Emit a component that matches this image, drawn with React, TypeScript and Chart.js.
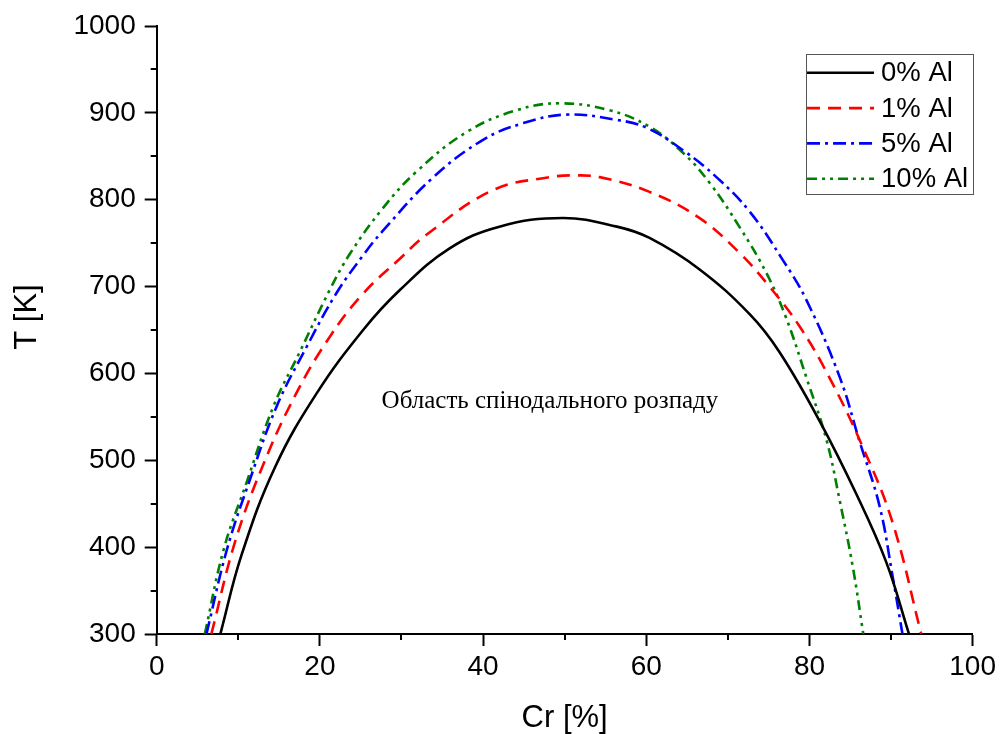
import React, { useEffect, useRef } from "react";
import { Chart, registerables } from "chart.js";

Chart.register(...registerables);

// ---- Data (Cr %, T K) ----
const crAl0 = [7.8, 10.4, 14.5, 19.6, 25.3, 29.8, 35.9, 42, 49.8, 56.4, 60.4, 66.5, 72.7, 76.3, 81.2, 85.7, 89.4, 92.2];
const tAl0 = [300, 391, 492, 577, 650, 696, 744, 769, 779, 769, 756, 720, 668, 625, 546, 462, 383, 300];

const crAl1 = [6.7, 9.6, 13.1, 17.1, 21.2, 25.3, 29.8, 33.1, 41.2, 48.2, 51.4, 54.3, 60.4, 66.5, 71.4, 75.1, 78.8, 82.4, 86.5, 90.2, 93.7];
const tAl1 = [300, 406, 496, 577, 642, 692, 732, 760, 811, 826, 828, 826, 809, 779, 739, 700, 654, 596, 516, 428, 300];

const crAl5 = [6.1, 8.6, 11.4, 14.7, 18.4, 22.0, 25.3, 27.7, 33.8, 40, 44.9, 50.2, 56.3, 60, 64.5, 68.6, 72.7, 76.7, 79.6, 83.7, 86.1, 88.6, 90.2, 91.4];
const tAl5 = [300, 397, 477, 562, 631, 692, 736, 764, 825, 869, 888, 898, 892, 883, 857, 826, 786, 731, 685, 596, 523, 447, 366, 300];

const crAl10 = [5.9, 8.2, 11.0, 14.3, 17.5, 21.2, 23.7, 27.7, 31.8, 38, 44.1, 49.4, 55.5, 60.4, 64.5, 67.8, 71.4, 74.7, 77.1, 79.6, 82.1, 83.7, 85.3, 86.6];
const tAl10 = [300, 397, 474, 562, 624, 696, 738, 790, 832, 878, 903, 911, 903, 884, 854, 819, 769, 716, 665, 596, 523, 454, 378, 300];

const seriesLabels = ["0% Al", "1% Al", "5% Al", "10% Al"];
const xTickStep = 20;
const xMinorStep = 10;
const yTickStep = 100;
const yMinorStep = 50;
const xRange = [0, 100];
const yRange = [300, 1000];
const xTitle = "Cr [%]";
const yTitle = "T [K]";
const regionLabel = "Область спінодального розпаду";
const regionLabelAt = { x: 48.2, y: 560 };

// ---- Styles ----
const SANS = '"Liberation Sans", Arial, sans-serif';
const SERIF = '"Liberation Serif", "Times New Roman", serif';
const colors = ["#000000", "#FF0000", "#0000FF", "#008000"];
const dashes: number[][] = [[], [13, 8], [13, 5, 3, 5], [10, 5, 3, 5, 3, 5]];

const toPoints = (xs: number[], ys: number[]) => xs.map((x, i) => ({ x, y: ys[i] }));

const minorTicksPlugin = {
  id: "minorTicks",
  afterDraw(chart: any) {
    const { ctx, scales, chartArea } = chart;
    ctx.save();
    ctx.strokeStyle = "#000";
    ctx.lineWidth = 2;
    const xs = scales.x;
    for (let v = xRange[0]; v <= xRange[1]; v += xMinorStep) {
      if (v % xTickStep === 0) continue;
      const px = Math.round(xs.getPixelForValue(v));
      ctx.beginPath();
      ctx.moveTo(px, chartArea.bottom);
      ctx.lineTo(px, chartArea.bottom + 6);
      ctx.stroke();
    }
    const ys = scales.y;
    for (let v = yRange[0]; v <= yRange[1]; v += yMinorStep) {
      if (v % yTickStep === 0) continue;
      const py = Math.round(ys.getPixelForValue(v));
      ctx.beginPath();
      ctx.moveTo(chartArea.left, py);
      ctx.lineTo(chartArea.left - 6, py);
      ctx.stroke();
    }
    ctx.restore();
  },
};

const textPlugin = {
  id: "texts",
  afterDatasetsDraw(chart: any) {
    const { ctx, scales } = chart;
    ctx.save();
    ctx.font = `25px ${SERIF}`;
    ctx.fillStyle = "#000";
    ctx.textAlign = "center";
    ctx.textBaseline = "alphabetic";
    ctx.fillText(regionLabel, scales.x.getPixelForValue(regionLabelAt.x), scales.y.getPixelForValue(regionLabelAt.y));
    // y axis title
    ctx.translate(27, 317);
    ctx.rotate(-Math.PI / 2);
    ctx.font = `31px ${SANS}`;
    ctx.textBaseline = "middle";
    ctx.fillText(yTitle, 0, 0);
    ctx.restore();
  },
};

const boxLegendPlugin = {
  id: "boxLegend",
  afterDraw(chart: any) {
    const { ctx, chartArea } = chart;
    const right = chartArea.right;
    const left = right - 166.6;
    const top = 54.3;
    const rowH = 35.3;
    const bottom = 194.3;
    ctx.save();
    ctx.fillStyle = "#fff";
    ctx.fillRect(left, top, right - left, bottom - top);
    ctx.strokeStyle = "#555";
    ctx.lineWidth = 1;
    ctx.strokeRect(Math.round(left) + 0.5, Math.round(top) + 0.5, Math.round(right - left), Math.round(bottom - top));
    chart.data.datasets.forEach((ds: any, i: number) => {
      const cy = top + 18.5 + i * rowH;
      ctx.beginPath();
      ctx.strokeStyle = ds.borderColor;
      ctx.lineWidth = ds.borderWidth;
      ctx.setLineDash(ds.borderDash || []);
      ctx.moveTo(left + 1, cy);
      ctx.lineTo(left + 68, cy);
      ctx.stroke();
      ctx.setLineDash([]);
      ctx.fillStyle = "#000";
      ctx.font = `27.5px ${SANS}`;
      ctx.textAlign = "left";
      ctx.textBaseline = "middle";
      ctx.fillText(ds.label, left + 75, cy + 1);
    });
    ctx.restore();
  },
};

export default function App() {
  const ref = useRef<HTMLCanvasElement>(null);
  useEffect(() => {
    document.body.style.margin = "0";
    const canvas = ref.current;
    if (!canvas) return;
    const all = [
      toPoints(crAl0, tAl0),
      toPoints(crAl1, tAl1),
      toPoints(crAl5, tAl5),
      toPoints(crAl10, tAl10),
    ];
    const tickFont = { family: SANS, size: 28 };
    const titleFont = { family: SANS, size: 31, lineHeight: 1 };
    const chart = new Chart(canvas, {
      type: "line",
      data: {
        datasets: all.map((pts, i) => ({
          label: seriesLabels[i],
          data: pts,
          borderColor: colors[i],
          backgroundColor: colors[i],
          borderWidth: 2.6,
          borderDash: dashes[i],
          pointRadius: 0,
          fill: false,
          tension: 0.4,
        })),
      },
      options: {
        responsive: false,
        animation: false,
        devicePixelRatio: 1,
        layout: { padding: { left: 0, top: 26, right: 26.7, bottom: 0 } },
        plugins: { legend: { display: false }, tooltip: { enabled: false } },
        scales: {
          x: {
            type: "linear",
            min: xRange[0],
            max: xRange[1],
            ticks: { stepSize: xTickStep, padding: 4, color: "#000", font: tickFont, callback: (v: any) => String(v) },
            grid: { drawOnChartArea: false, drawTicks: true, tickLength: 12, tickColor: "#000", tickWidth: 2 },
            border: { display: true, color: "#000", width: 2 },
            title: { display: true, text: xTitle, color: "#000", font: titleFont, padding: { top: 0, bottom: 0.5 } },
            afterFit: (s: any) => { s.height = 100; },
          },
          y: {
            type: "linear",
            min: yRange[0],
            max: yRange[1],
            ticks: { stepSize: yTickStep, padding: 9, color: "#000", font: tickFont, callback: (v: any) => String(v) },
            grid: { drawOnChartArea: false, drawTicks: true, tickLength: 12, tickColor: "#000", tickWidth: 2 },
            border: { display: true, color: "#000", width: 2 },
            title: { display: false, text: yTitle },
            afterFit: (s: any) => { s.width = 156.7; },
          },
        },
      },
      plugins: [minorTicksPlugin, textPlugin, boxLegendPlugin],
    } as any);
    return () => chart.destroy();
  }, []);
  return (
    <div style={{ position: "absolute", left: 0, top: 0, width: 1000, height: 734, background: "#fff" }}>
      <canvas ref={ref} width={1000} height={734} />
    </div>
  );
}
